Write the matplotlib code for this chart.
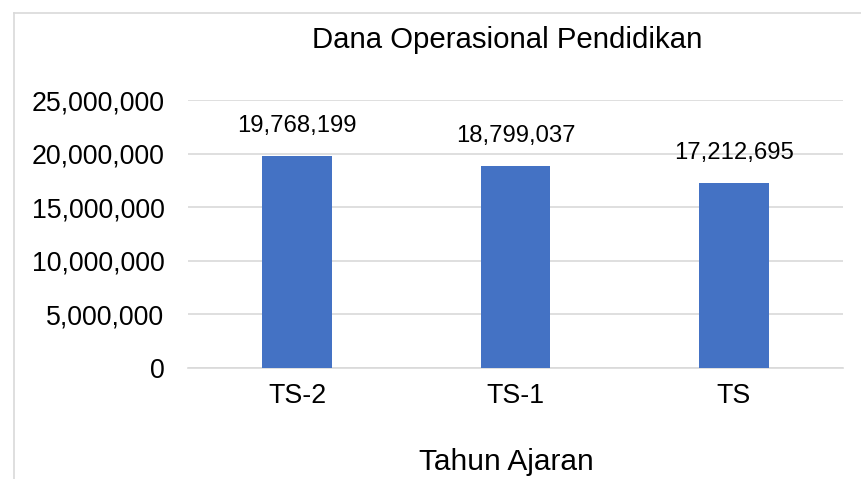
import matplotlib.pyplot as plt
from matplotlib.lines import Line2D
from matplotlib.ticker import FuncFormatter

categories = ['TS-2', 'TS-1', 'TS']
values = [19768199, 18799037, 17212695]
title = 'Dana Operasional Pendidikan'
xlabel = 'Tahun Ajaran'

plt.rcParams['font.family'] = ['Liberation Sans', 'DejaVu Sans']

fig = plt.figure(figsize=(8.61, 4.79), dpi=100)
W, H = 861, 479
ax = fig.add_axes([188 / W, 1 - 368 / H, (843 - 188) / W, (368 - 100) / H])

x = range(len(categories))
bars = ax.bar(x, values, width=0.32, color='#4472C4', zorder=3)
for b, v in zip(bars, values):
    ax.annotate(f'{v:,}', (b.get_x() + b.get_width() / 2, v), xytext=(0, 17.3),
                textcoords='offset points', ha='center', va='baseline',
                fontsize=17.2, color='#000000')

ax.set_xlim(-0.5, 2.5)
ax.set_ylim(0, 25000000)
ax.set_yticks(range(0, 25000001, 5000000))
ax.yaxis.set_major_formatter(FuncFormatter(lambda v, p: f'{int(v):,}'))
ax.set_xticks(list(x))
ax.set_xticklabels(categories)
ax.tick_params(axis='both', length=0, labelsize=19.3, colors='#000000')
ax.tick_params(axis='x', pad=11)
ax.tick_params(axis='y', pad=17)
ax.grid(axis='y', color='#D9D9D9', linewidth=1.2, zorder=0)
for s in ['top', 'right', 'left']:
    ax.spines[s].set_visible(False)
ax.spines['bottom'].set_color('#D9D9D9')
ax.spines['bottom'].set_linewidth(1.2)

fig.text(507 / W, 1 - 48 / H, title, ha='center', va='baseline', fontsize=21.2)
fig.text(506 / W, 1 - 470 / H, xlabel, ha='center', va='baseline', fontsize=21.5)

# chart border (partly cut off on the right and bottom)
fig.add_artist(Line2D([13.5 / W, 13.5 / W], [0, 1 - 12.5 / H], transform=fig.transFigure,
                      color='#D9D9D9', linewidth=1.2))
fig.add_artist(Line2D([13.5 / W, 1], [1 - 12.5 / H, 1 - 12.5 / H], transform=fig.transFigure,
                      color='#D9D9D9', linewidth=1.2))

fig.savefig('out.png', dpi=100)
